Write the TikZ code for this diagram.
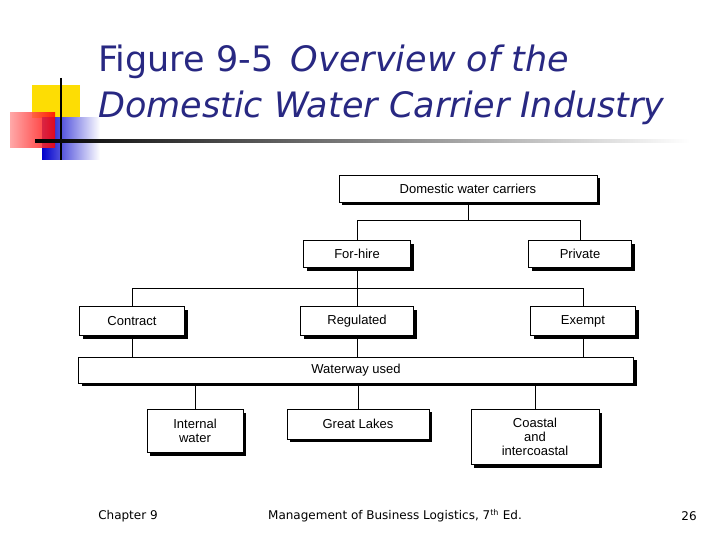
\documentclass[tikz,border=0pt]{standalone}
\usepackage{fontspec}
\setmainfont{DejaVu Sans}
\newfontfamily\boxfont{Liberation Sans}
\usetikzlibrary{shadows}
\definecolor{titleBlue}{RGB}{40,40,130}

\begin{document}
\begin{tikzpicture}[x=1pt,y=-1pt,%%
  boxStyle/.style={draw,thin,fill=white,inner sep=1pt,align=center,
    font=\boxfont\fontsize{13}{14}\selectfont,
    drop shadow={shadow xshift=3pt,shadow yshift=-3pt,fill=black,opacity=1}},%%
  lineStyle/.style={-,thin}%%
]
%%
\useasboundingbox (0,0) rectangle (720,540);
%%
%% Corner decoration.
\fill[yellow!80!orange] (32,85) rectangle (80,118);
\shade[left color=blue!80!black,right color=white] (42,118) rectangle (100,160);
\shade[left color=red!40,right color=red,opacity=.85] (10,113) rectangle (55,148);
\draw[line width=2pt] (61,78) -- (61,160);
\shade[left color=black,right color=white] (35,140) rectangle (690,142.5);
%%
%% Title.
\node[anchor=base west,text=titleBlue,font=\fontsize{35}{38}\selectfont,inner sep=0pt] (title1) at (98,72)
  {Figure 9-5\enspace\textit{Overview of the}};
\node[anchor=base west,text=titleBlue,font=\fontsize{35}{38}\selectfont,inner sep=0pt] (title2) at (98,118)
  {\textit{Domestic Water Carrier Industry}};
%%
%% The boxes.
\node[boxStyle,minimum width=258,minimum height=27] (carriers) at (468,189) {Domestic water carriers};
\node[boxStyle,minimum width=107,minimum height=27] (forHire) at (357,254) {For-hire};
\node[boxStyle,minimum width=103,minimum height=27] (private) at (580,254) {Private};
\node[boxStyle,minimum width=105,minimum height=29] (contract) at (132,321) {Contract};
\node[boxStyle,minimum width=113,minimum height=29] (regulated) at (357,321) {Regulated};
\node[boxStyle,minimum width=105,minimum height=29] (exempt) at (583,321) {Exempt};
\node[boxStyle,minimum width=555,minimum height=26] (waterway) at (356,370) {Waterway used};
\node[boxStyle,minimum width=96,minimum height=43] (internal) at (195,431) {Internal\\water};
\node[boxStyle,minimum width=142,minimum height=30] (lakes) at (358,424) {Great Lakes};
\node[boxStyle,minimum width=128,minimum height=55] (coastal) at (535,437) {Coastal\\and\\intercoastal};
%%
%% Connectors.
\draw[lineStyle] (carriers.south) -- ++(0,18) -| (forHire.north);
\draw[lineStyle] (carriers.south) ++(0,18) -| (private.north);
\draw[lineStyle] (forHire.south) -- (regulated.north);
\draw[lineStyle] (forHire.south) ++(0,20) -| (contract.north);
\draw[lineStyle] (forHire.south) ++(0,20) -| (exempt.north);
\draw[lineStyle] (contract.south) -- (contract.south |- waterway.north);
\draw[lineStyle] (regulated.south) -- (regulated.south |- waterway.north);
\draw[lineStyle] (exempt.south) -- (exempt.south |- waterway.north);
\draw[lineStyle] (internal.north) -- (internal.north |- waterway.south);
\draw[lineStyle] (lakes.north) -- (lakes.north |- waterway.south);
\draw[lineStyle] (coastal.north) -- (coastal.north |- waterway.south);
%%
%% Footer.
\node[font=\fontsize{12}{14}\selectfont] (chapter) at (128,516) {Chapter 9};
\node[font=\fontsize{12}{14}\selectfont] (book) at (395,516) {Management of Business Logistics, 7\textsuperscript{th} Ed.};
\node[font=\fontsize{12}{14}\selectfont] (page) at (689,516) {26};
\end{tikzpicture}
\end{document}
